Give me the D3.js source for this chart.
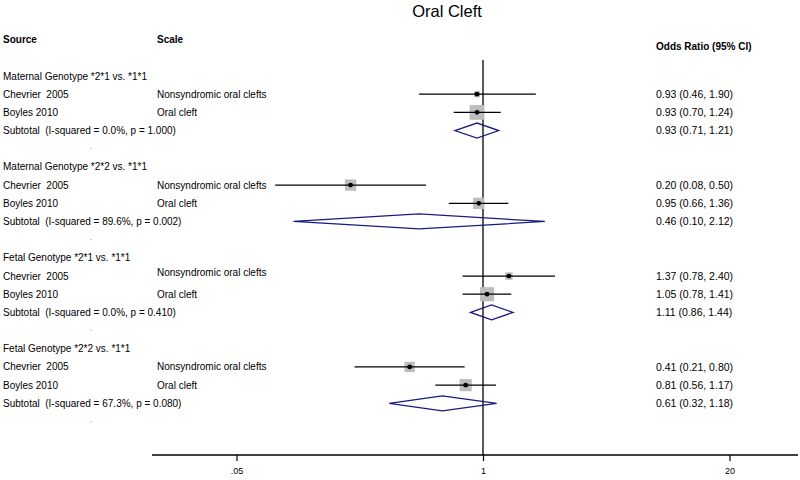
<!DOCTYPE html>
<html><head><meta charset="utf-8">
<script src="https://cdn.jsdelivr.net/npm/d3@7"></script>
<style>
html,body{margin:0;padding:0;background:#fff;}
svg{font-family:"Liberation Sans",Arial,sans-serif;}
text{white-space:pre;}
</style></head>
<body><svg id="c" width="800" height="480"></svg>
<script>
const groups = ["Maternal Genotype *2*1 vs. *1*1","Maternal Genotype *2*2 vs. *1*1","Fetal Genotype *2*1 vs. *1*1","Fetal Genotype *2*2 vs. *1*1"];
const sources = ["Chevrier  2005","Boyles 2010"];
const scaleLabels = ["Nonsyndromic oral clefts","Oral cleft"];
const studyOR = [0.93,0.93,0.20,0.95,1.37,1.05,0.41,0.81];
const studyLo = [0.46,0.70,0.08,0.66,0.78,0.78,0.21,0.56];
const studyHi = [1.90,1.24,0.50,1.36,2.40,1.41,0.80,1.17];
const studyWeight = [14,86,50,50,22,78,42,58];
const subtotalLabels = ["Subtotal  (I-squared = 0.0%, p = 1.000)","Subtotal  (I-squared = 89.6%, p = 0.002)","Subtotal  (I-squared = 0.0%, p = 0.410)","Subtotal  (I-squared = 67.3%, p = 0.080)"];
const subOR = [0.93,0.46,1.11,0.61];
const subLo = [0.71,0.10,0.86,0.32];
const subHi = [1.21,2.12,1.44,1.18];
const tickValues = [0.05,1,20];
const tickLabels = [".05","1","20"];

const svg = d3.select("#c");
const x = d3.scaleLog().domain([0.05,20]).range([236.5,729.5]);
const y = d3.scaleLinear().domain([0,19]).range([76,421.5]);
const side = d3.scaleSqrt().domain([0,100]).range([0,16]);
const fmt = d3.format(".2f");
const ciText = (o,l,h)=>`${fmt(o)} (${fmt(l)}, ${fmt(h)})`;

// Title and headers
svg.append("text").attr("x",447).attr("y",17).attr("text-anchor","middle").attr("font-size",16.5).text("Oral Cleft");
svg.append("text").attr("x",3).attr("y",43).attr("font-size",10).attr("font-weight","bold").text("Source");
svg.append("text").attr("x",157).attr("y",43).attr("font-size",10).attr("font-weight","bold").text("Scale");
svg.append("text").attr("x",656).attr("y",50).attr("font-size",10).attr("font-weight","bold").text("Odds Ratio (95% CI)");

// Reference line at OR = 1
svg.append("line").attr("x1",x(1)).attr("x2",x(1)).attr("y1",60).attr("y2",455).attr("stroke","#000").attr("stroke-width",1.3);

const fs = 10;
groups.forEach((g,gi)=>{
  const r0 = gi*5;
  svg.append("text").attr("x",3).attr("y",y(r0)).attr("dy","0.35em").attr("font-size",fs).text(g);
  for(let k=0;k<2;k++){
    const i = gi*2+k, yy = y(r0+1+k);
    svg.append("text").attr("x",3).attr("y",yy).attr("dy","0.35em").attr("font-size",fs).text(sources[k]);
    svg.append("text").attr("x",157).attr("y",yy - (gi===2 && k===0 ? 4 : 0)).attr("dy","0.35em").attr("font-size",fs).text(scaleLabels[k]);
    const s = side(studyWeight[i]);
    svg.append("rect").attr("x",x(studyOR[i])-s/2).attr("y",yy-s/2).attr("width",s).attr("height",s).attr("fill","#bdbdbd");
    svg.append("line").attr("x1",x(studyLo[i])).attr("x2",x(studyHi[i])).attr("y1",yy).attr("y2",yy).attr("stroke","#000").attr("stroke-width",1.2);
    svg.append("circle").attr("cx",x(studyOR[i])).attr("cy",yy).attr("r",2.4).attr("fill","#000");
    svg.append("text").attr("x",656).attr("y",yy).attr("dy","0.35em").attr("font-size",10.5).text(ciText(studyOR[i],studyLo[i],studyHi[i]));
  }
  const ys = y(r0+3);
  svg.append("text").attr("x",3).attr("y",ys).attr("dy","0.35em").attr("font-size",fs).text(subtotalLabels[gi]);
  svg.append("path").attr("d",`M${x(subLo[gi])},${ys} L${x(subOR[gi])},${ys-7.5} L${x(subHi[gi])},${ys} L${x(subOR[gi])},${ys+7.5} Z`)
    .attr("fill","none").attr("stroke","#1a1a80").attr("stroke-width",1.3);
  svg.append("text").attr("x",656).attr("y",ys).attr("dy","0.35em").attr("font-size",10.5).text(ciText(subOR[gi],subLo[gi],subHi[gi]));
  svg.append("text").attr("x",90).attr("y",y(r0+4)).attr("dy","0.1em").attr("font-size",7).attr("fill","#555").text(".");
});

// Axis
const axis = svg.append("g").attr("transform","translate(0,455)")
  .call(d3.axisBottom(x).tickValues(tickValues).tickFormat((d,i)=>tickLabels[i]).tickSize(6).tickSizeOuter(0));
axis.select(".domain").remove();
axis.append("line").attr("x1",152).attr("x2",798).attr("y1",0).attr("y2",0).attr("stroke","#000").attr("stroke-width",1.3);
axis.selectAll(".tick line").attr("stroke","#000").attr("stroke-width",1.2);
axis.selectAll(".tick text").attr("font-size",9).attr("font-family","Liberation Sans, Arial, sans-serif").attr("fill","#000").attr("dy","1.1em");
</script></body></html>
